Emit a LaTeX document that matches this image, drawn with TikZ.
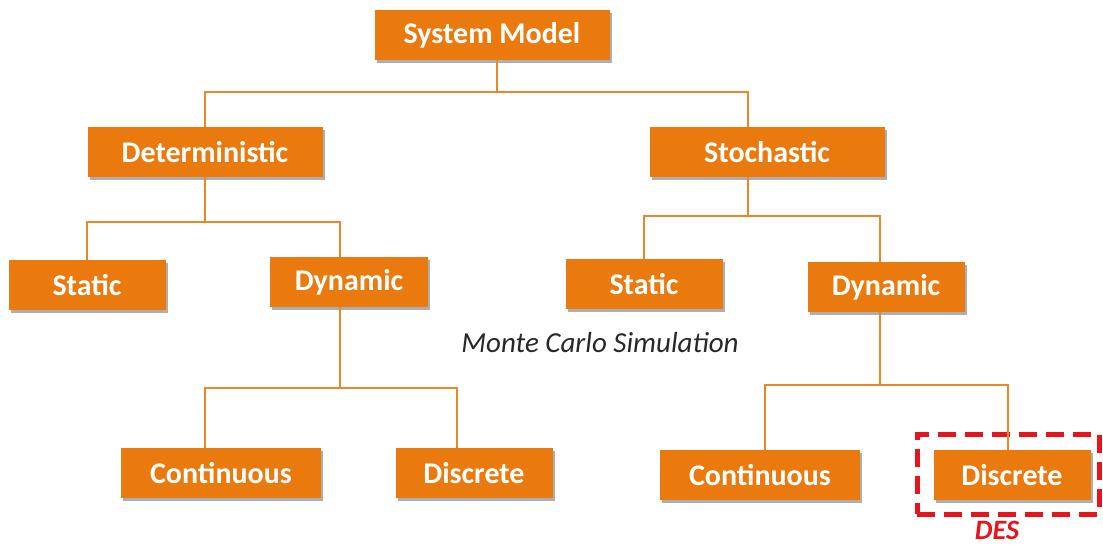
\documentclass[tikz,border=0pt]{standalone}
\usepackage{fontspec}
\setmainfont{Carlito}
\usetikzlibrary{shadows}
\definecolor{boxor}{RGB}{234,122,14}
\definecolor{lineor}{RGB}{232,136,40}
\definecolor{desred}{RGB}{232,20,28}
\tikzset{
  box/.style={fill=boxor, text=white, font=\fontsize{30}{33}\selectfont\bfseries,
    inner sep=0pt, minimum height=50pt,
    drop shadow={shadow xshift=2pt, shadow yshift=-2.5pt, opacity=0.45, fill=black!70}},
  link/.style={draw=lineor, line width=2pt},
}
\begin{document}
\begin{tikzpicture}[x=1pt,y=-1pt]
\useasboundingbox (0,0) rectangle (1103,547);
% nodes
\node[box, minimum width=235pt] (sys) at (492,35) {System Model};
\node[box, minimum width=235pt] (det) at (205,152) {Deterministic};
\node[box, minimum width=235pt] (sto) at (767,152) {Stochastic};
\node[box, minimum width=157pt] (stl) at (87,285) {Static};
\node[box, minimum width=158pt] (dyl) at (349,282) {Dynamic};
\node[box, minimum width=157pt] (str) at (644,284) {Static};
\node[box, minimum width=157pt] (dyr) at (886,287) {Dynamic};
\node[box, minimum width=200pt] (col) at (221,473) {Continuous};
\node[box, minimum width=157pt] (dil) at (474,473) {Discrete};
\node[box, minimum width=200pt] (cor) at (760,475) {Continuous};
\node[box, minimum width=157pt] (dir) at (1012,475) {Discrete};
\node[font=\fontsize{29}{32}\selectfont\itshape, text={rgb,255:red,40;green,40;blue,40}] (mc) at (600,343) {Monte Carlo Simulation};
\node[draw=desred, dashed, dash pattern=on 18pt off 9pt, line width=5pt, minimum width=182pt, minimum height=80pt] (desbox) at (1008,474) {};
\node[text=desred, font=\fontsize{28}{30}\selectfont\bfseries\itshape] (des) at (997,530) {DES};
% junctions
\coordinate (j1) at (497,92);
\coordinate (j2) at (205,222);
\coordinate (j3) at (748,216);
\coordinate (j4) at (340,388);
\coordinate (j5) at (880,385);
% connectors
\begin{scope}[on background layer/.try]
\draw[link] (j1 |- sys.south) -- (j1);
\draw[link] (det.north) |- (j1) -| (sto.north -| j3);
\draw[link] (det.south) -- (j2);
\draw[link] (stl.north) |- (j2) -| (dyl.north -| j4);
\draw[link] (sto.south -| j3) -- (j3);
\draw[link] (str.north) |- (j3) -| (dyr.north -| j5);
\draw[link] (dyl.south -| j4) -- (j4);
\draw[link] (col.north -| 205,0) |- (j4) -| (dil.north -| 457,0);
\draw[link] (dyr.south -| j5) -- (j5);
\draw[link] (cor.north -| 765,0) |- (j5) -| (dir.north -| 1008,0);
\end{scope}
\end{tikzpicture}
\end{document}
